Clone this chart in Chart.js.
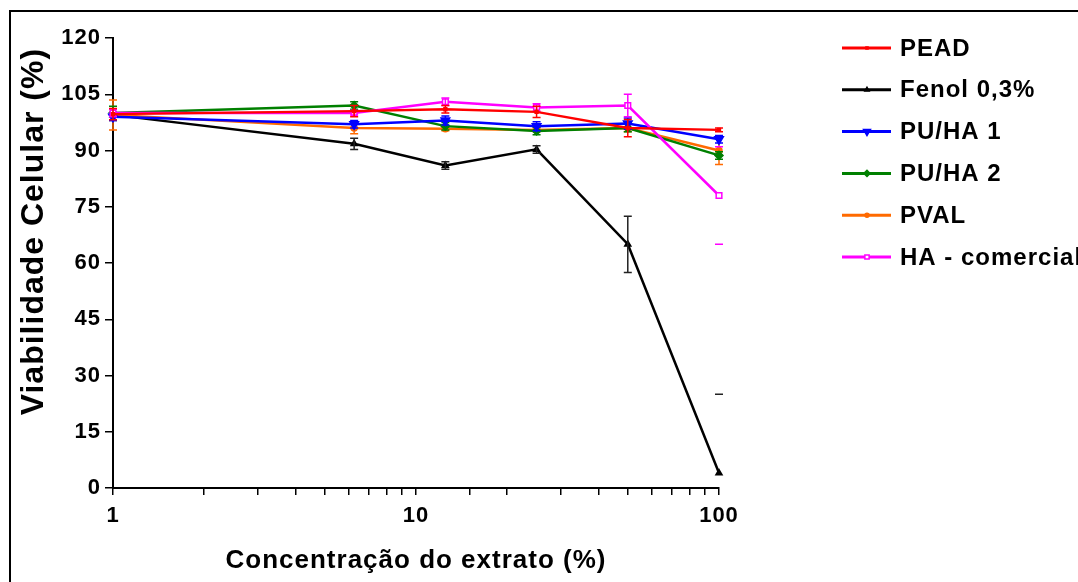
<!DOCTYPE html>
<html lang="pt">
<head>
<meta charset="utf-8">
<title>Viabilidade celular</title>
<script src="https://cdn.jsdelivr.net/npm/chart.js@4/dist/chart.umd.min.js"></script>
<style>
    html, body { margin: 0; padding: 0; background: #fff; overflow: hidden; }
    #caixa { position: relative; width: 1078px; height: 582px; }
    #moldura { position: absolute; left: 9px; top: 10px; right: 0; bottom: 0; border-top: 2px solid #000; border-left: 2px solid #000; pointer-events: none; }
</style>
</head>
<body>
<div id="caixa">
    <canvas id="grafica-viabilidade"></canvas>
    <div id="moldura"></div>
</div>
<script>
const concentracoes = [1, 6.25, 12.5, 25, 50, 100];
const rotulosX = [1, 10, 100];

const pead = [99.7, 100.5, 101, 100.3, 96, 95.5];
const fenol = [99.5, 91.8, 86, 90.3, 65, 4];
const puha1 = [99, 97, 98, 96.5, 97.2, 93];
const puha2 = [100, 102, 96.5, 95.2, 96, 88.7];
const pval = [99.5, 96, 95.8, 95.5, 96, 90];
const haComercial = [100, 100, 103, 101.5, 102, 78];

const errosPead = [1.5, 1.5, 1, 1.5, 2.3, 0.5];
const errosFenol = [1.5, 1.5, 1, 1, 7.5, 21];
const errosPuha1 = [1, 1, 1.2, 1.2, 1.5, 1];
const errosPuha2 = [1.8, 1, 1, 1, 1, 1];
const errosPval = [4, 1.5, 0.5, 0.5, 1, 3.7];
const errosHa = [1, 0.5, 1, 1, 3, 13];

// pontos onde so aparecem as tampas da barra de erro
const apenasTampas = [[1, 5], [5, 5]];

const fonte = "'Liberation Sans', Arial, sans-serif";

function pontos(serie) {
    return concentracoes.map((x, i) => ({ x: x, y: serie[i] }));
}

function serie(label, valores, erros, cor, estilo) {
    return Object.assign({
        label: label,
        data: pontos(valores),
        erros: erros,
        borderColor: cor,
        backgroundColor: cor,
        pointBackgroundColor: cor,
        pointBorderColor: cor,
        borderWidth: 2.5,
        pointBorderWidth: 1.5,
        tension: 0,
        clip: false
    }, estilo);
}

const espacamento = {
    id: "espacamento",
    beforeUpdate(chart) { chart.ctx.letterSpacing = "1px"; },
    beforeDraw(chart) { chart.ctx.letterSpacing = "1px"; }
};

const barrasErro = {
    id: "barrasErro",
    afterDatasetDraw(chart, args) {
        const { ctx, chartArea, scales } = chart;
        const ds = chart.data.datasets[args.index];
        ctx.save();
        ctx.beginPath();
        ctx.rect(chartArea.left - 10, chartArea.top - 10, chartArea.width + 20, chartArea.height + 10);
        ctx.clip();
        ctx.strokeStyle = ds.corErro || ds.borderColor;
        ctx.lineWidth = 1.5;
        args.meta.data.forEach((ponto, i) => {
            const v = ds.data[i].y;
            const yAlto = scales.y.getPixelForValue(v + ds.erros[i]);
            const yBaixo = scales.y.getPixelForValue(v - ds.erros[i]);
            const soTampa = apenasTampas.some(([d, p]) => d === args.index && p === i);
            ctx.beginPath();
            if (!soTampa) {
                ctx.moveTo(ponto.x, yAlto);
                ctx.lineTo(ponto.x, yBaixo);
            }
            ctx.moveTo(ponto.x - 4, yAlto);
            ctx.lineTo(ponto.x + 4, yAlto);
            ctx.moveTo(ponto.x - 4, yBaixo);
            ctx.lineTo(ponto.x + 4, yBaixo);
            ctx.stroke();
        });
        ctx.restore();
    }
};

const legendaLateral = {
    id: "legendaLateral",
    afterDraw(chart) {
        const { ctx, chartArea } = chart;
        const x0 = chartArea.right + 123;
        ctx.save();
        ctx.font = "bold 24px " + fonte;
        ctx.textBaseline = "middle";
        ctx.textAlign = "left";
        chart.data.datasets.forEach((ds, i) => {
            const y = chartArea.top + 10 + i * 41.8;
            ctx.strokeStyle = ds.borderColor;
            ctx.lineWidth = 3;
            ctx.beginPath();
            ctx.moveTo(x0, y);
            ctx.lineTo(x0 + 49, y);
            ctx.stroke();
            ctx.fillStyle = ds.pointBackgroundColor;
            ctx.lineWidth = 1.5;
            Chart.helpers.drawPoint(ctx, {
                pointStyle: ds.pointStyle,
                rotation: ds.pointRotation || 0,
                radius: Math.max(ds.pointRadius - 1, 1.5),
                borderWidth: 1.5
            }, x0 + 25, y);
            ctx.fillStyle = "#000";
            ctx.fillText(ds.label, x0 + 58, y + 1);
        });
        ctx.restore();
    }
};

const datasets = [
    serie("PEAD", pead, errosPead, "#ff0000", { pointStyle: "rect", pointRadius: 2, order: 0 }),
    serie("Fenol 0,3%", fenol, errosFenol, "#000000", { pointStyle: "triangle", pointRadius: 3.5, order: 5, corErro: "#222" }),
    serie("PU/HA 1", puha1, errosPuha1, "#0000ff", { pointStyle: "triangle", pointRotation: 180, pointRadius: 5, order: 2 }),
    serie("PU/HA 2", puha2, errosPuha2, "#008000", { pointStyle: "rectRot", pointRadius: 4, order: 3 }),
    serie("PVAL", pval, errosPval, "#ff6a00", { pointStyle: "circle", pointRadius: 3, order: 4 }),
    serie("HA - comercial", haComercial, errosHa, "#ff00ff", { pointStyle: "rect", pointRadius: 4, pointBackgroundColor: "#ffffff", order: 1 })
];

const eixoTicks = { color: "#000", font: { family: fonte, size: 22, weight: "bold" } };

new Chart(document.getElementById("grafica-viabilidade"), {
    type: "line",
    data: { datasets: datasets },
    options: {
        responsive: true,
        maintainAspectRatio: false,
        animation: false,
        layout: { padding: { top: 38, right: 359, bottom: 0, left: 0 } },
        plugins: {
            legend: { display: false },
            tooltip: { enabled: false }
        },
        scales: {
            x: {
                type: "logarithmic",
                min: 1,
                max: 100,
                afterFit: (scale) => { scale.height = 94; },
                border: { display: true, color: "#000", width: 2 },
                grid: { display: true, drawOnChartArea: false, drawTicks: true, tickLength: 7, color: "#000", lineWidth: 1.5 },
                ticks: Object.assign({
                    autoSkip: false,
                    maxRotation: 0,
                    padding: 8,
                    callback: (v) => rotulosX.includes(v) ? String(v) : ""
                }, eixoTicks),
                title: {
                    display: true,
                    text: "Concentração do extrato (%)",
                    color: "#000",
                    font: { family: fonte, size: 26, weight: "bold" },
                    padding: 6
                }
            },
            y: {
                min: 0,
                max: 120,
                afterFit: (scale) => { scale.width = 113; },
                border: { display: true, color: "#000", width: 2 },
                grid: { display: true, drawOnChartArea: false, drawTicks: true, tickLength: 8, color: "#000", lineWidth: 1.5 },
                ticks: Object.assign({ stepSize: 15, padding: 4 }, eixoTicks),
                title: {
                    display: true,
                    text: "Viabilidade Celular (%) ",
                    color: "#000",
                    align: "end",
                    font: { family: fonte, size: 32, weight: "bold" },
                    padding: 15
                }
            }
        }
    },
    plugins: [espacamento, barrasErro, legendaLateral]
});
</script>
</body>
</html>
